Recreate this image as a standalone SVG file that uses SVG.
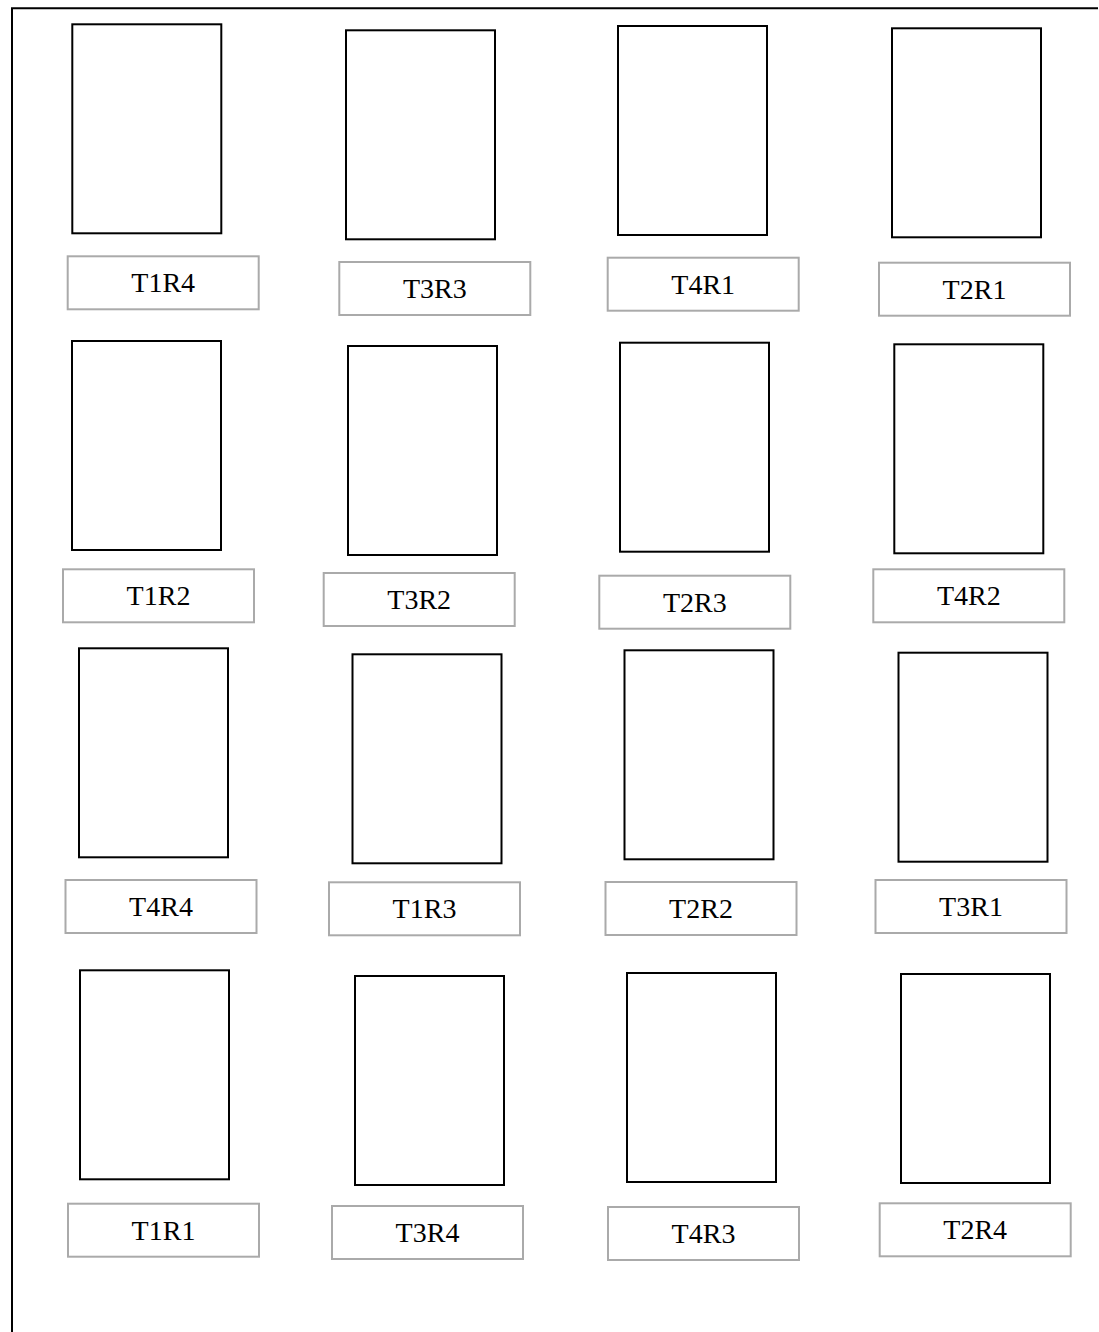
<svg xmlns="http://www.w3.org/2000/svg" width="1099" height="1332" viewBox="0 0 1099 1332">
<style>
.card{fill:#fff;stroke:#000;stroke-width:2}
.lbl{fill:#fff;stroke:#aaaaaa;stroke-width:2}
.t{font-family:"Liberation Serif","Times New Roman",serif;font-size:28px;text-anchor:middle;fill:#000}
</style>
<rect width="1099" height="1332" fill="#fff"/>
<path d="M12,1332 V8.3 H1098" fill="none" stroke="#000" stroke-width="2"/>
<g id="connectors"/>
<g id="n1"><rect class="card" x="72.3" y="24.3" width="149" height="209"/><rect class="lbl" x="67.7" y="256.3" width="191" height="53"/><text class="t" x="163.2" y="292.3">T1R4</text></g>
<g id="n2"><rect class="card" x="346" y="30.3" width="149" height="209"/><rect class="lbl" x="339.3" y="262" width="191" height="53"/><text class="t" x="434.8" y="298">T3R3</text></g>
<g id="n3"><rect class="card" x="618" y="26" width="149" height="209"/><rect class="lbl" x="607.7" y="257.7" width="191" height="53"/><text class="t" x="703.2" y="293.7">T4R1</text></g>
<g id="n4"><rect class="card" x="892" y="28.3" width="149" height="209"/><rect class="lbl" x="879" y="262.7" width="191" height="53"/><text class="t" x="974.5" y="298.7">T2R1</text></g>
<g id="n5"><rect class="card" x="72" y="341" width="149" height="209"/><rect class="lbl" x="63" y="569.3" width="191" height="53"/><text class="t" x="158.5" y="605.3">T1R2</text></g>
<g id="n6"><rect class="card" x="348" y="346" width="149" height="209"/><rect class="lbl" x="323.7" y="573" width="191" height="53"/><text class="t" x="419.2" y="609">T3R2</text></g>
<g id="n7"><rect class="card" x="620" y="342.7" width="149" height="209"/><rect class="lbl" x="599.3" y="575.7" width="191" height="53"/><text class="t" x="694.8" y="611.7">T2R3</text></g>
<g id="n8"><rect class="card" x="894.3" y="344.3" width="149" height="209"/><rect class="lbl" x="873.3" y="569.3" width="191" height="53"/><text class="t" x="968.8" y="605.3">T4R2</text></g>
<g id="n9"><rect class="card" x="79" y="648.3" width="149" height="209"/><rect class="lbl" x="65.5" y="880" width="191" height="53"/><text class="t" x="161" y="916">T4R4</text></g>
<g id="n10"><rect class="card" x="352.5" y="654.3" width="149" height="209"/><rect class="lbl" x="329" y="882.3" width="191" height="53"/><text class="t" x="424.5" y="918.3">T1R3</text></g>
<g id="n11"><rect class="card" x="624.5" y="650.3" width="149" height="209"/><rect class="lbl" x="605.5" y="882" width="191" height="53"/><text class="t" x="701" y="918">T2R2</text></g>
<g id="n12"><rect class="card" x="898.5" y="652.7" width="149" height="209"/><rect class="lbl" x="875.5" y="880" width="191" height="53"/><text class="t" x="971" y="916">T3R1</text></g>
<g id="n13"><rect class="card" x="80" y="970.3" width="149" height="209"/><rect class="lbl" x="68" y="1203.7" width="191" height="53"/><text class="t" x="163.5" y="1239.7">T1R1</text></g>
<g id="n14"><rect class="card" x="355" y="976" width="149" height="209"/><rect class="lbl" x="332" y="1206" width="191" height="53"/><text class="t" x="427.5" y="1242">T3R4</text></g>
<g id="n15"><rect class="card" x="627" y="973" width="149" height="209"/><rect class="lbl" x="608" y="1207" width="191" height="53"/><text class="t" x="703.5" y="1243">T4R3</text></g>
<g id="n16"><rect class="card" x="901" y="974" width="149" height="209"/><rect class="lbl" x="879.7" y="1203.3" width="191" height="53"/><text class="t" x="975.2" y="1239.3">T2R4</text></g>
</svg>
